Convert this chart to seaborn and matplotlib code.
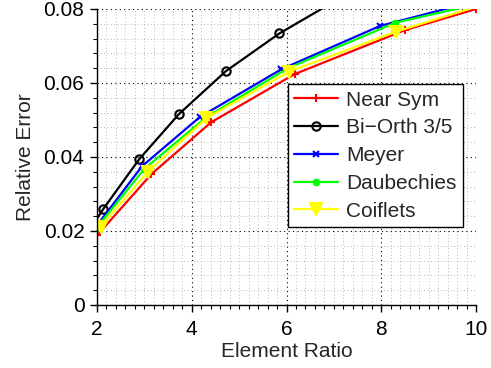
import matplotlib
matplotlib.use("Agg")
import matplotlib.pyplot as plt
from matplotlib.ticker import MultipleLocator, FuncFormatter
import seaborn as sns
import pandas as pd

# Data (points outside the view are clipped by the axes)
near_sym_x = [2.0, 3.15, 4.41, 6.17, 8.5, 10.0]
near_sym_y = [0.0188, 0.0354, 0.0494, 0.0624, 0.0743, 0.0800]
biorth_x = [1.5, 2.13, 2.89, 3.73, 4.72, 5.85, 7.1]
biorth_y = [0.0135, 0.0259, 0.0394, 0.0516, 0.0632, 0.0734, 0.0827]
meyer_x = [2.0, 2.95, 4.17, 5.89, 7.97, 9.8]
meyer_y = [0.0215, 0.0375, 0.0508, 0.0637, 0.0754, 0.0815]
daub_x = [2.0, 3.0, 4.31, 6.03, 8.3, 10.2]
daub_y = [0.0210, 0.0368, 0.0508, 0.0640, 0.0763, 0.0818]
coif_x = [2.08, 3.07, 4.31, 6.06, 8.32, 10.3]
coif_y = [0.0212, 0.0360, 0.0505, 0.0631, 0.0739, 0.0818]

labels = ["Near Sym", "Bi\u2212Orth 3/5", "Meyer", "Daubechies", "Coiflets"]
xs = [near_sym_x, biorth_x, meyer_x, daub_x, coif_x]
ys = [near_sym_y, biorth_y, meyer_y, daub_y, coif_y]
colors = ["#ff0000", "#000000", "#0000ff", "#00ff00", "#ffff00"]
markers = ["+", "o", "x", "o", "v"]
msizes = [6, 6, 4, 4, 8]

sns.set_style("ticks")
plt.rcParams["font.family"] = ["Liberation Sans", "DejaVu Sans"]
FS = 15
plt.rcParams["font.size"] = FS

fig = plt.figure(figsize=(4.91, 3.68), dpi=100)
ax = fig.add_axes([97 / 491, 1 - 305 / 368, 379 / 491, 296 / 368])

for x, y, lab, c, m, ms in zip(xs, ys, labels, colors, markers, msizes):
    df = pd.DataFrame({"x": x, "y": y})
    mfc = "none" if lab.startswith("Bi") else c
    sns.lineplot(data=df, x="x", y="y", ax=ax, color=c, marker=m, markersize=ms,
                 markerfacecolor=mfc, markeredgecolor=c, markeredgewidth=1.5,
                 linewidth=1.6, sort=False, label=lab, estimator=None, clip_on=True)

ax.set_xlim(2, 10)
ax.set_ylim(0, 0.08)
ax.xaxis.set_major_locator(MultipleLocator(2))
ax.xaxis.set_minor_locator(MultipleLocator(0.2))
ax.yaxis.set_major_locator(MultipleLocator(0.02))
ax.yaxis.set_minor_locator(MultipleLocator(0.004))
ax.yaxis.set_major_formatter(FuncFormatter(lambda v, p: "0" if abs(v) < 1e-9 else f"{v:.2f}"))
ax.xaxis.set_major_formatter(FuncFormatter(lambda v, p: f"{v:g}"))

ax.grid(True, which="major", color="black", linestyle=(0, (1, 3)), linewidth=0.8)
ax.grid(True, which="minor", color="#a0a0a0", linestyle=(0, (1, 3)), linewidth=0.6)
ax.set_axisbelow(True)

sns.despine(ax=ax)
for s in ["left", "bottom"]:
    ax.spines[s].set_linewidth(1.0)
    ax.spines[s].set_color("black")
ax.tick_params(which="major", direction="out", length=5, width=1, colors="black",
               labelsize=FS, pad=4)
ax.tick_params(axis="x", which="major", pad=6)
ax.tick_params(which="minor", direction="out", length=3, width=0.8, colors="black")

ax.set_xlabel("Element Ratio", fontsize=FS, labelpad=2)
ax.set_ylabel("Relative Error", fontsize=FS, labelpad=6)

leg = ax.legend(loc="lower right", bbox_to_anchor=(0.966, 0.264), borderaxespad=0,
                fontsize=FS, frameon=True, fancybox=False, framealpha=1,
                edgecolor="black", handlelength=2.1, labelspacing=0.42,
                borderpad=0.3, handletextpad=0.4)
leg.get_frame().set_linewidth(1.0)

fig.savefig("out.png", dpi=100)
